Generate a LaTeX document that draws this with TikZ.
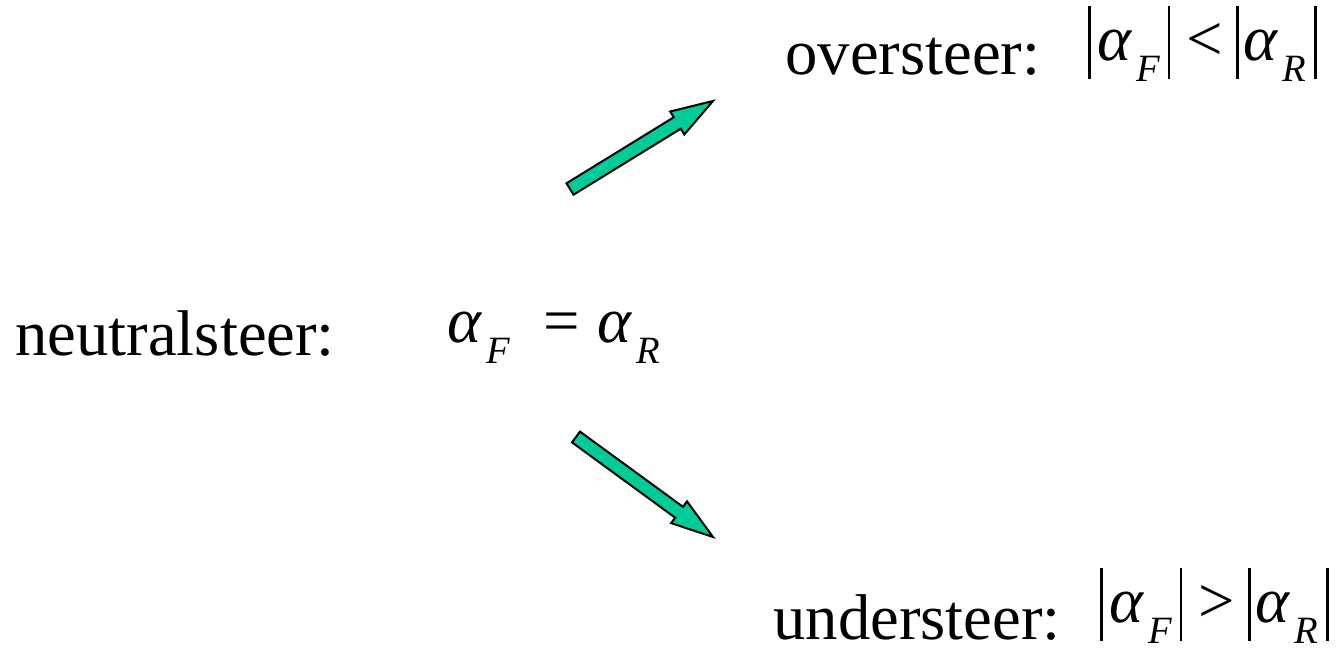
\documentclass[tikz,border=0pt]{standalone}
\usepackage{fontspec}
\setmainfont{Liberation Serif}
\usepackage{tikz}
\usetikzlibrary{calc}

\definecolor{arrowgreen}{HTML}{00CC99}
\tikzset{
  fatarrow/.style={fill=arrowgreen, draw=black, line width=0.04cm, line join=miter},
  label/.style={anchor=base west, inner sep=0pt}
}
% alpha with a lowered subscript, and the bars of an absolute value
\newcommand{\slipsub}[1]{\raisebox{-0.34em}{\fontsize{22}{24}\selectfont\itshape #1}}
\newcommand{\slipangle}[1]{{\itshape α}\kern0.08em\slipsub{#1}}
\newcommand{\absbar}{\rule[-0.3em]{0.04em}{1.14em}}
% wide outlined arrow from tail #1 to tip #2
\newcommand{\fatarrow}[2]{%
  \coordinate (#1-h) at ($(#2)!0.84cm!(#1)$);
  \draw[fatarrow] ($(#1)!0.134cm!90:(#2)$) -- ($(#1-h)!0.134cm!90:(#2)$)
    -- ($(#1-h)!0.27cm!90:(#2)$) -- (#2) -- ($(#1-h)!0.27cm!-90:(#2)$)
    -- ($(#1-h)!0.134cm!-90:(#2)$) -- ($(#1)!0.134cm!-90:(#2)$) -- cycle;}

\begin{document}
\begin{tikzpicture}[x=0.02cm, y=-0.02cm, font=\fontsize{36.8}{44}\selectfont]
  \useasboundingbox (0,0) rectangle (1339,653);
  % ---------- neutral steer ----------
  \node[label] (neutral) at (15,355) {neutralsteer:};
  \node[label] (neutraleq) at (447,342)
    {\slipangle{F}\hspace{0.52em}=\hspace{0.27em}\slipangle{R}};
  % ---------- oversteer ----------
  \node[label] (over) at (785,74) {oversteer:};
  \node[label] (overeq) at (1088,60)
    {\absbar\hspace{0.1em}\slipangle{F}\hspace{0.12em}\absbar\hspace{0.25em}<\hspace{0.2em}\absbar\hspace{0.08em}\slipangle{R}\hspace{0.12em}\absbar};
  % ---------- understeer ----------
  \node[label] (under) at (773,639) {understeer:};
  \node[label] (undereq) at (1100,622)
    {\absbar\hspace{0.1em}\slipangle{F}\hspace{0.12em}\absbar\hspace{0.25em}>\hspace{0.2em}\absbar\hspace{0.08em}\slipangle{R}\hspace{0.12em}\absbar};
  % ---------- arrows ----------
  \coordinate (upT) at (570,189);
  \coordinate (upH) at (713,101);
  \coordinate (dnT) at (576,437);
  \coordinate (dnH) at (713,537);
  \fatarrow{upT}{upH}
  \fatarrow{dnT}{dnH}
\end{tikzpicture}
\end{document}
